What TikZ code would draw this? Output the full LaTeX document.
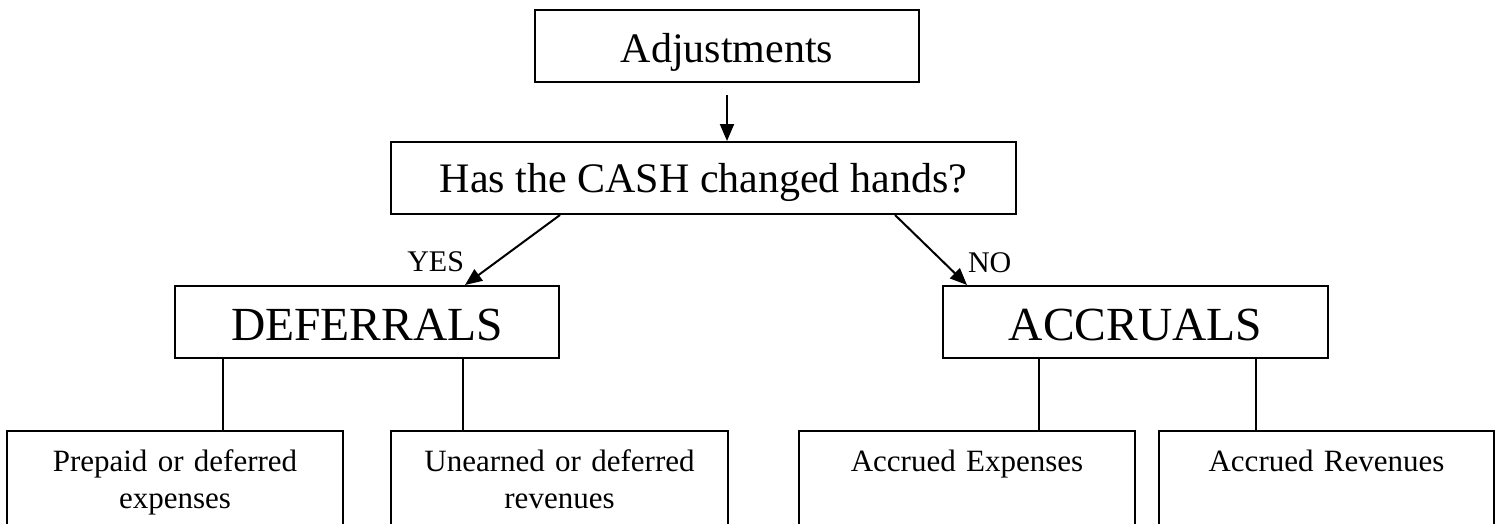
\documentclass[tikz,border=0pt]{standalone}
\usepackage{fontspec}
\setmainfont{Liberation Serif}
\usetikzlibrary{arrows.meta,positioning}

\begin{document}
\begin{tikzpicture}[x=1pt, y=-1pt,
        topbox/.style={draw, line width=2pt, minimum height=72pt, inner sep=0pt, text depth=8pt},
        lowbox/.style={draw, line width=2pt, anchor=north, minimum width=336pt, text width=310pt,
            align=center, inner xsep=8pt, inner ysep=12pt, text height=28pt, text depth=78pt,
            font=\fontsize{31}{37}\selectfont},
        link/.style={-{Triangle[length=17pt,width=14pt]}, line width=2pt},
        tie/.style={line width=1.3pt},
        lbl/.style={inner sep=0pt, font=\fontsize{30}{36}\selectfont}]
        \useasboundingbox (0,0) rectangle (1500,523);
        \clip (0,0) rectangle (1500,523);

        % Question
        \node[topbox, minimum width=384pt, text height=40pt, font=\fontsize{42}{50}\selectfont] (adj) at (727,46) {Adjustments};
        \node[topbox, minimum width=625pt, text height=36pt, font=\fontsize{42}{50}\selectfont] (cash) at (703.5,178) {Has the CASH changed hands?};

        % Two answers
        \node[topbox, minimum width=384pt, text height=44pt, font=\fontsize{47.5}{56}\selectfont] (defer) at (367,322) {DEFERRALS};
        \node[topbox, minimum width=385pt, text height=44pt, font=\fontsize{47.5}{56}\selectfont] (accr) at (1135.5,322) {ACCRUALS};

        % Kinds of adjustment
        \node[lowbox] (prepaid) at (175,430) {Prepaid or deferred\\expenses};
        \node[lowbox, minimum width=337pt] (unearned) at (559.5,430) {Unearned or deferred\\revenues};
        \node[lowbox] (accexp) at (967,430) {Accrued Expenses};
        \node[lowbox, minimum width=335pt] (accrev) at (1326.5,430) {Accrued Revenues};

        % Arrows
        \draw[link] ([yshift=-12pt]adj.south) -- (adj.south |- cash.north);
        \draw[link] ([xshift=-143.5pt]cash.south) -- node[lbl, pos=1, anchor=base east, yshift=14pt] {YES} ([xshift=98pt]defer.north);
        \draw[link] ([xshift=191.5pt]cash.south) -- node[lbl, pos=1, anchor=base west, yshift=13pt] {NO} ([xshift=-168.5pt]accr.north);

        % Connections
        \coordinate (d1) at ([xshift=-144pt]defer.south);
        \coordinate (d2) at ([xshift=96pt]defer.south);
        \coordinate (a1) at ([xshift=-96.5pt]accr.south);
        \coordinate (a2) at ([xshift=120.5pt]accr.south);
        \draw[tie] (d1) -- (d1 |- prepaid.north);
        \draw[tie] (d2) -- (d2 |- unearned.north);
        \draw[tie] (a1) -- (a1 |- accexp.north);
        \draw[tie] (a2) -- (a2 |- accrev.north);
    \end{tikzpicture}
\end{document}
